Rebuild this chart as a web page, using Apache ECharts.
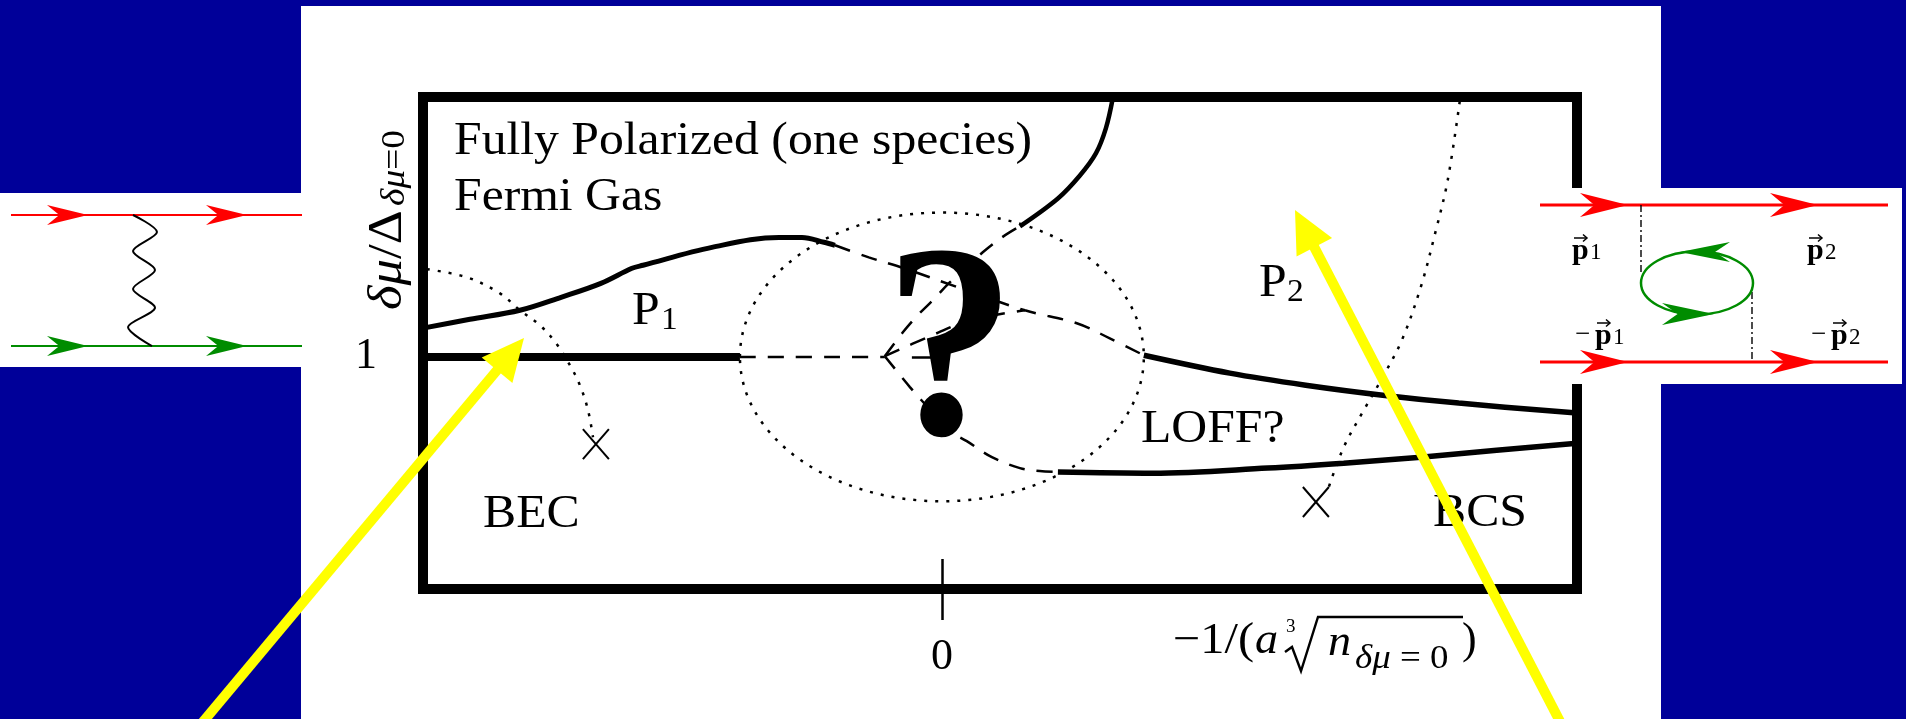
<!DOCTYPE html>
<html>
<head>
<meta charset="utf-8">
<title>Polarized Fermi gas: BEC–BCS phase diagram</title>
<script src="https://cdn.jsdelivr.net/npm/echarts@6.0.0/dist/echarts.min.js"></script>
<style>
  html, body { margin: 0; padding: 0; background: #000099; }
  #chart { width: 1906px; height: 719px; }
</style>
</head>
<body>
<div id="chart"></div>
<script>
// ---- axes: x = -1/(a ∛n), y = δμ/Δ ----
const xRange = [-2.5, 3.06];
const yRange = [0, 2.12];
const xTickValues = [0];
const xTickLabels = ['0'];
const yTickValues = [1];
const yTickLabels = ['1'];

// ---- phase boundaries as [x, y] points ----
// upper boundary of P1 (solid) and where it continues as a conjecture (dashed)
const p1Upper = [[-2.5, 1.124], [-2.274, 1.162], [-2.033, 1.201], [-1.835, 1.257], [-1.643, 1.317],
  [-1.493, 1.382], [-1.44, 1.395], [-1.108, 1.472], [-0.785, 1.515], [-0.674, 1.515],
  [-0.568, 1.494], [-0.515, 1.481]];
const p1UpperGuess = [[-0.515, 1.481], [-0.352, 1.429], [-0.183, 1.382], [0.077, 1.3], [0.4, 1.201],
  [0.65, 1.145], [0.809, 1.08], [0.973, 1.007]];
// P2 / LOFF boundary
const p2Lower = [[0.973, 1.007], [1.387, 0.93], [1.753, 0.878], [2.124, 0.835], [2.49, 0.801], [3.06, 0.758]];
// LOFF / BCS boundary
const bcsUpper = [[0.559, 0.504], [1.016, 0.499], [1.57, 0.521], [1.936, 0.542], [2.307, 0.568],
  [2.673, 0.598], [3.06, 0.628]];
const bcsUpperGuess = [[-0.275, 1.003], [-0.154, 0.87], [-0.048, 0.762], [0.014, 0.693], [0.12, 0.637],
  [0.241, 0.568], [0.376, 0.521], [0.472, 0.508], [0.559, 0.504]];
// δμ = Δ line on the BEC side
const unitGap = [[-2.5, 1], [-0.973, 1]];
const unitGapGuess = [[-0.973, 1], [-0.275, 1]];
// fully polarized / P2 boundary
const polarizedEdge = [[0.376, 1.563], [0.559, 1.683], [0.665, 1.782], [0.742, 1.877], [0.79, 1.985], [0.824, 2.118]];
const polarizedEdgeGuess = [[-0.275, 1.003], [-0.188, 1.106], [-0.116, 1.18], [-0.034, 1.253], [0.039, 1.322],
  [0.197, 1.451], [0.289, 1.515], [0.376, 1.563]];
const innerGuess = [[-0.275, 1.003], [-0.058, 1.089], [0.135, 1.158], [0.4, 1.201]];
// gapless (dotted) lines ending at the crosses
const becDotted = [[-2.481, 1.378], [-2.288, 1.343], [-2.129, 1.274], [-2.033, 1.201], [-1.936, 1.136],
  [-1.859, 1.059], [-1.792, 0.964], [-1.744, 0.878], [-1.705, 0.771], [-1.681, 0.654]];
const bcsDotted = [[2.495, 2.101], [2.437, 1.761], [2.38, 1.545], [2.307, 1.3], [2.216, 1.072],
  [2.124, 0.913], [2.033, 0.771], [1.936, 0.611], [1.864, 0.439]];
const crosses = [[-1.667, 0.624], [1.802, 0.375]];
// unknown region around unitarity: centre x, centre y, radius x, radius y
const unknownRegion = [[0, 1, 0.973, 0.622]];

const SERIF = '"Liberation Serif", "DejaVu Serif", serif';
const DASH = [16, 12];
const DOT = [3, 8];

function curve(name, data, width, type) {
  return {
    name, type: 'line', data, symbol: 'none', smooth: 0.35, silent: true, z: 3,
    lineStyle: { color: '#000', width, type: type || 'solid' }
  };
}

function txt(text, x, y, size, opt) {
  opt = opt || {};
  return {
    type: 'text', x, y, z: opt.z == null ? 10 : opt.z, silent: true,
    scaleX: opt.scaleX == null ? 1.08 : opt.scaleX, rotation: opt.rotation || 0,
    style: Object.assign({
      text, fontFamily: SERIF, fontSize: size, fill: opt.fill || '#000',
      align: opt.align || 'left', verticalAlign: opt.va || 'middle',
      fontStyle: opt.italic ? 'italic' : 'normal', fontWeight: opt.bold ? 'bold' : 'normal'
    }, opt.style || {})
  };
}

function italicRich(size) {
  return { rich: { i: { fontStyle: 'italic', fontSize: size, fontFamily: SERIF } } };
}

// stealth-style arrowhead used on the propagator lines
function fletch(tipX, tipY, dir, len, half, color, z) {
  return {
    type: 'polygon', z, silent: true,
    shape: { points: [[tipX, tipY], [tipX - dir * len, tipY - half], [tipX - dir * len * 0.7, tipY], [tipX - dir * len, tipY + half]] },
    style: { fill: color }
  };
}

// big yellow pointer arrows
function pointer(tail, tip) {
  const dx = tip[0] - tail[0], dy = tip[1] - tail[1], L = Math.hypot(dx, dy);
  const ux = dx / L, uy = dy / L, px = -uy, py = ux;
  const hl = 42, hw = 20;
  const bx = tip[0] - ux * hl, by = tip[1] - uy * hl;
  return [
    { type: 'line', z: 60, silent: true, shape: { x1: tail[0], y1: tail[1], x2: bx + ux * 3, y2: by + uy * 3 },
      style: { stroke: '#ffff00', lineWidth: 10 } },
    { type: 'polygon', z: 60, silent: true,
      shape: { points: [tip, [bx + px * hw, by + py * hw], [bx - px * hw, by - py * hw]] },
      style: { fill: '#ffff00' } }
  ];
}

// momentum label with a vector arrow over the p
function vecLabel(x, y, minus, sub) {
  const kids = [];
  let px = x;
  if (minus) { kids.push(txt('−', x, y, 27, { scaleX: 1, z: 52 })); px = x + 20; }
  kids.push(txt('p', px, y + 1, 30, { scaleX: 1, z: 52, bold: true }));
  kids.push(txt(sub, px + 18, y + 3, 23, { scaleX: 1, z: 52 }));
  kids.push({ type: 'line', z: 52, silent: true, shape: { x1: px + 2, y1: y - 12, x2: px + 15, y2: y - 12 },
    style: { stroke: '#000', lineWidth: 1.5 } });
  kids.push({ type: 'polyline', z: 52, silent: true,
    shape: { points: [[px + 11, y - 15.5], [px + 15, y - 12], [px + 11, y - 8.5]] },
    style: { stroke: '#000', lineWidth: 1.5, fill: null } });
  return kids;
}

const RED = '#ff0000', GREEN = '#008c00';

const graphics = [
  // white slide panel
  { type: 'rect', z: -10, silent: true, shape: { x: 301, y: 6, width: 1360, height: 720 }, style: { fill: '#ffffff' } },

  // region labels
  txt('Fully Polarized (one species)', 454, 142, 46),
  txt('Fermi Gas', 454, 198, 46),
  txt('P', 632, 312, 46),
  txt('1', 661, 321, 31),
  txt('P', 1259, 284, 46),
  txt('2', 1287, 293, 31),
  txt('LOFF?', 1141, 430, 46),
  txt('BEC', 483, 515, 46),
  txt('BCS', 1433, 514, 46),
  txt('?', 950, 362, 276, { bold: true, align: 'center', scaleX: 0.95 }),

  // y-axis title, rotated
  { type: 'group', x: 405, y: 310, rotation: Math.PI / 2, silent: true, children: [
    txt('{i|δμ}/Δ', 0, -17, 48, { scaleX: 1.1, style: italicRich(48) }),
    txt('{i|δμ}=0', 104, -10, 34, { scaleX: 1.1, style: italicRich(34) })
  ] },

  // x-axis title: −1/(a ∛n_{δμ=0})
  txt('−1/(', 1173, 641, 44, { scaleX: 1.1 }),
  txt('a', 1255, 641, 44, { italic: true, scaleX: 1.05 }),
  txt('3', 1286, 627, 19, { scaleX: 1 }),
  { type: 'polyline', z: 10, silent: true,
    shape: { points: [[1285, 652], [1292, 647], [1301, 671], [1318, 617], [1463, 617]] },
    style: { stroke: '#000', lineWidth: 2.4, fill: null, lineJoin: 'miter' } },
  txt('n', 1328, 643, 44, { italic: true, scaleX: 1.05 }),
  txt('{i|δμ} = 0', 1355, 659, 33, { scaleX: 1.12, style: italicRich(33) }),
  txt(')', 1462, 641, 44, { scaleX: 1 }),

  // left diagram: single boson exchange
  { type: 'rect', z: 50, silent: true, shape: { x: 0, y: 193, width: 302, height: 174 }, style: { fill: '#ffffff' } },
  { type: 'line', z: 51, silent: true, shape: { x1: 11, y1: 215, x2: 302, y2: 215 }, style: { stroke: RED, lineWidth: 2 } },
  { type: 'line', z: 51, silent: true, shape: { x1: 11, y1: 346, x2: 302, y2: 346 }, style: { stroke: GREEN, lineWidth: 2 } },
  fletch(88, 215, 1, 41, 10, RED, 52), fletch(247, 215, 1, 41, 10, RED, 52),
  fletch(88, 346, 1, 41, 10, GREEN, 52), fletch(247, 346, 1, 41, 10, GREEN, 52),
  { type: 'polyline', z: 52, silent: true,
    shape: { smooth: 0.3, points: [[133, 215], [157, 232], [133, 251], [155, 270], [133, 289], [155, 308], [128, 327], [152, 346]] },
    style: { stroke: '#000', lineWidth: 2, fill: null } },

  // right diagram: medium-induced exchange
  { type: 'rect', z: 50, silent: true, shape: { x: 1534, y: 188, width: 368, height: 196 }, style: { fill: '#ffffff' } },
  { type: 'line', z: 51, silent: true, shape: { x1: 1540, y1: 205, x2: 1888, y2: 205 }, style: { stroke: RED, lineWidth: 3 } },
  { type: 'line', z: 51, silent: true, shape: { x1: 1540, y1: 362, x2: 1888, y2: 362 }, style: { stroke: RED, lineWidth: 3 } },
  fletch(1628, 205, 1, 48, 12, RED, 52), fletch(1818, 205, 1, 48, 12, RED, 52),
  fletch(1628, 362, 1, 48, 12, RED, 52), fletch(1818, 362, 1, 48, 12, RED, 52),
  { type: 'line', z: 51, silent: true, shape: { x1: 1641, y1: 205, x2: 1641, y2: 273 }, style: { stroke: '#000', lineWidth: 1.4, lineDash: [7, 3, 2, 3] } },
  { type: 'line', z: 51, silent: true, shape: { x1: 1752, y1: 292, x2: 1752, y2: 362 }, style: { stroke: '#000', lineWidth: 1.4, lineDash: [7, 3, 2, 3] } },
  { type: 'ellipse', z: 51, silent: true, shape: { cx: 1697, cy: 283, rx: 56, ry: 31.5 }, style: { stroke: GREEN, lineWidth: 2.5, fill: null } },
  fletch(1680, 252, -1, 50, 10, GREEN, 52),
  fletch(1714, 314, 1, 52, 11, GREEN, 52)
].concat(
  vecLabel(1572, 250, false, '1'),
  vecLabel(1807, 250, false, '2'),
  vecLabel(1575, 335, true, '1'),
  vecLabel(1811, 335, true, '2'),
  pointer([192, 735], [524, 338]),
  pointer([1567, 735], [1295, 210])
);

const chart = echarts.init(document.getElementById('chart'));
chart.setOption({
  animation: false,
  backgroundColor: '#000099',
  grid: { left: 423, top: 97, width: 1154, height: 492, show: true, borderColor: '#000', borderWidth: 10, backgroundColor: 'transparent' },
  xAxis: [
    {
      type: 'value', min: xRange[0], max: xRange[1],
      axisLine: { show: false }, splitLine: { show: false },
      axisTick: { show: true, inside: false, length: 31, customValues: xTickValues, lineStyle: { color: '#000', width: 2.5 } },
      axisLabel: { show: true, customValues: xTickValues, margin: 46,
        formatter: v => xTickLabels[xTickValues.indexOf(v)] ?? '',
        fontFamily: SERIF, fontSize: 44, color: '#000' }
    },
    {
      type: 'value', min: xRange[0], max: xRange[1], position: 'bottom',
      axisLine: { show: false }, splitLine: { show: false }, axisLabel: { show: false },
      axisTick: { show: true, inside: true, length: 30, customValues: xTickValues, lineStyle: { color: '#000', width: 2.5 } }
    }
  ],
  yAxis: {
    type: 'value', min: yRange[0], max: yRange[1],
    axisLine: { show: false }, splitLine: { show: false },
    axisTick: { show: true, inside: false, length: 30, customValues: yTickValues, lineStyle: { color: '#000', width: 2.5 } },
    axisLabel: { show: true, customValues: yTickValues, margin: 46,
      formatter: v => yTickLabels[yTickValues.indexOf(v)] ?? '',
      fontFamily: SERIF, fontSize: 44, color: '#000' }
  },
  series: [
    curve('P1 upper', p1Upper, 5),
    curve('P1 upper (conjectured)', p1UpperGuess, 2.5, DASH),
    curve('P2 lower', p2Lower, 5.5),
    curve('BCS upper', bcsUpper, 5.5),
    curve('BCS upper (conjectured)', bcsUpperGuess, 2.5, DASH),
    curve('δμ = Δ', unitGap, 8),
    curve('δμ = Δ (conjectured)', unitGapGuess, 2.5, DASH),
    curve('polarized edge', polarizedEdge, 4.5),
    curve('polarized edge (conjectured)', polarizedEdgeGuess, 2.5, DASH),
    curve('inner (conjectured)', innerGuess, 2.5, DASH),
    curve('BEC gapless', becDotted, 2.5, DOT),
    curve('BCS gapless', bcsDotted, 2.5, DOT),
    {
      name: 'unknown region', type: 'custom', data: unknownRegion, silent: true, clip: false, z: 3,
      renderItem(params, api) {
        const c = api.coord([api.value(0), api.value(1)]);
        const s = api.size([api.value(2), api.value(3)]);
        return { type: 'ellipse', shape: { cx: c[0], cy: c[1], rx: s[0], ry: s[1] },
          style: { fill: null, stroke: '#000', lineWidth: 2.5, lineDash: DOT } };
      }
    },
    {
      name: 'gapless endpoints', type: 'custom', data: crosses, silent: true, clip: false, z: 3,
      renderItem(params, api) {
        const c = api.coord([api.value(0), api.value(1)]);
        const h = 13, v = 15;
        return { type: 'group', children: [
          { type: 'line', shape: { x1: c[0] - h, y1: c[1] - v, x2: c[0] + h, y2: c[1] + v }, style: { stroke: '#000', lineWidth: 2 } },
          { type: 'line', shape: { x1: c[0] + h, y1: c[1] - v, x2: c[0] - h, y2: c[1] + v }, style: { stroke: '#000', lineWidth: 2 } }
        ] };
      }
    }
  ],
  graphic: { elements: graphics }
});
</script>
</body>
</html>
